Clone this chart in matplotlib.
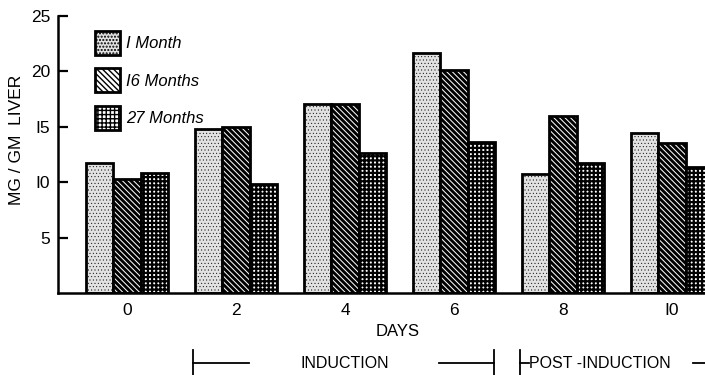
import numpy as np
import matplotlib.pyplot as plt
import matplotlib.transforms as mtransforms

# ================================
# Data
# ================================
days = [0, 2, 4, 6, 8, 10]
one_month = [11.7, 14.8, 17.1, 21.7, 10.7, 14.4]
sixteen_months = [10.3, 15.0, 17.1, 20.1, 16.0, 13.5]
twentyseven_months = [10.8, 9.8, 12.6, 13.6, 11.7, 11.4]
series_labels = ["I Month", "I6 Months", "27 Months"]
yticks = [5, 10, 15, 20, 25]

plt.rcParams['font.family'] = ['Liberation Sans', 'DejaVu Sans']

fig = plt.figure(figsize=(7.05, 3.75), dpi=100)
ax = fig.add_axes([58/705, 82/375, 647/705, 277/375])

x = np.array(days, dtype=float)
w = 0.5

# --- bars, one style per age group ---
styles = [
    dict(facecolor='#e2e2e2', hatch='.....', hlw=0.3),
    dict(facecolor='white', hatch='\\\\\\\\\\\\', hlw=2.1),
    dict(facecolor='white', hatch='++++', hlw=1.6),
]
handles = []
for i, (vals, st) in enumerate(zip([one_month, sixteen_months, twentyseven_months], styles)):
    with plt.rc_context({'hatch.linewidth': st['hlw']}):
        bars = ax.bar(x + (i - 1) * w, vals, width=w, facecolor=st['facecolor'],
                      edgecolor='black', linewidth=2.0, hatch=st['hatch'],
                      label=series_labels[i])
        for b in bars:
            if hasattr(b, 'set_hatch_linewidth'):
                b.set_hatch_linewidth(st['hlw'])
    handles.append(bars)

ax.set_xlim(-1.266, 10.606)
ax.set_ylim(0, 25)
ax.set_yticks(yticks)
ax.set_xticks(days)
ax.set_xticklabels([str(d).replace('1', 'I') for d in days], fontsize=12.5)
ax.set_yticklabels([str(t).replace('1', 'I') for t in yticks], fontsize=12.5)
ax.tick_params(axis='y', direction='in', length=7.2, width=1.6, pad=5.5)
ax.tick_params(axis='x', length=0, pad=7)

for s in ['top', 'right']:
    ax.spines[s].set_visible(False)
for s in ['left', 'bottom']:
    ax.spines[s].set_linewidth(1.8)

fig.text(17/705, 1 - 140/375, "MG / GM  LIVER", rotation=90, fontsize=12.5,
         ha='center', va='center')
fig.text(398/705, 1 - 331/375, "DAYS", fontsize=12, ha='center', va='center')

leg = ax.legend(handles=handles, loc='upper left', frameon=False,
                bbox_to_anchor=(83/705, 1 - 19/375), bbox_transform=fig.transFigure,
                prop=dict(size=12, style='italic'), handlelength=1.5,
                handleheight=1.85, labelspacing=0.8, handletextpad=0.4,
                borderpad=0.2)

# --- phase brackets under the axis ---
trans = mtransforms.blended_transform_factory(ax.transData, fig.transFigure)
y_line = 1 - 363/375
y_top, y_bot = 1 - 350/375, 0.0
kw = dict(color='black', lw=1.3, transform=trans, clip_on=False)
# induction
ax.plot([1.21, 1.21], [y_top, y_bot], **kw)
ax.plot([1.21, 2.24], [y_line, y_line], **kw)
ax.plot([5.72, 6.73], [y_line, y_line], **kw)
ax.plot([6.73, 6.73], [y_top, y_bot], **kw)
ax.text(3.99, y_line, "INDUCTION", transform=trans, fontsize=11.5,
        ha='center', va='center')
# post-induction
ax.plot([7.22, 7.22], [y_top, y_bot], **kw)
ax.plot([7.22, 7.37], [y_line, y_line], **kw)
ax.text(7.37, y_line, "POST -INDUCTION", transform=trans, fontsize=11.5,
        ha='left', va='center')
ax.plot([10.39, 10.65], [y_line, y_line], **kw)

fig.savefig("out.png", dpi=100)
